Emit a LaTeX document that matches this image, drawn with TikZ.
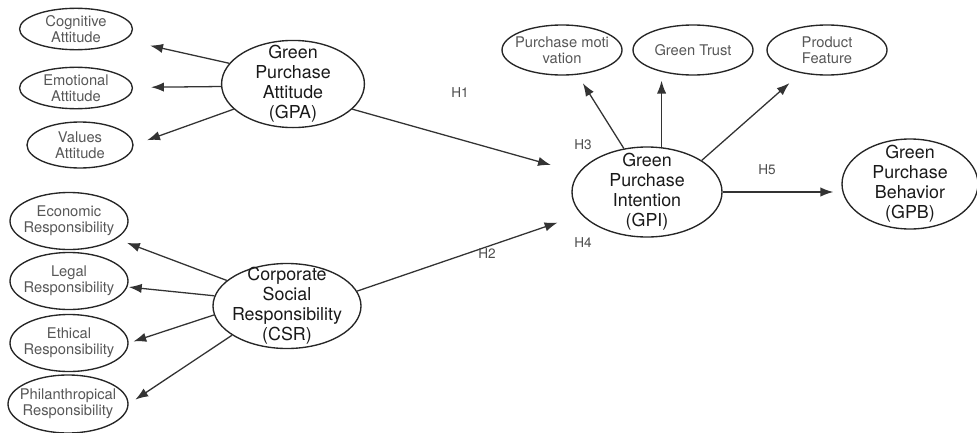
\documentclass[tikz,border=0pt]{standalone}
\usepackage{fontspec}
\setmainfont{TeX Gyre Heros}
\usetikzlibrary{shapes.geometric,arrows.meta}

\begin{document}
\begin{tikzpicture}[x=0.7pt,y=-0.7pt,
  sub/.style={ellipse,draw=black!85,line width=0.95pt,inner xsep=-10pt,inner ysep=-14pt,align=center,font=\fontsize{10.3}{11.4}\selectfont,text=black!66},
  main/.style={ellipse,draw=black!85,line width=0.95pt,inner xsep=-10pt,inner ysep=-14pt,align=center,font=\fontsize{12.5}{14}\selectfont,text=black!90},
  link/.style={line width=0.9pt,draw=black!80,-{Latex[length=9pt,width=6.5pt]}},
  hyp/.style={font=\fontsize{9.5}{11}\selectfont,text=black!70}]
\useasboundingbox (0,0) rectangle (977,432);

\node[sub,minimum width=79pt,minimum height=29pt] (cog) at (76,29) {Cognitive\\Attitude};
\node[sub,minimum width=79pt,minimum height=29pt] (emo) at (76,88) {Emotional\\Attitude};
\node[sub,minimum width=74.2pt,minimum height=32.2pt] (val) at (80,145) {Values\\Attitude};
\node[main,minimum width=100pt,minimum height=61pt] (gpa) at (293,84) {Green\\Purchase\\Attitude\\(GPA)};

\node[sub,minimum width=82.6pt,minimum height=39.9pt] (eco) at (69,221) {Economic\\Responsibility};
\node[sub,minimum width=82.6pt,minimum height=39.9pt] (leg) at (69,281) {Legal\\Responsibility};
\node[sub,minimum width=82.6pt,minimum height=39.9pt] (eth) at (69,343) {Ethical\\Responsibility};
\node[sub,minimum width=84pt,minimum height=40.6pt] (phi) at (68,404) {Philanthropical\\Responsibility};
\node[main,minimum width=103.6pt,minimum height=59.5pt] (csr) at (287,306) {Corporate\\Social\\Responsibility\\(CSR)};

\node[sub,minimum width=84pt,minimum height=35pt] (mot) at (562,50) {Purchase moti\\vation};
\node[sub,minimum width=84pt,minimum height=35pt] (tru) at (693,50) {Green Trust};
\node[sub,minimum width=84pt,minimum height=35pt] (fea) at (827,50) {Product\\Feature};
\node[main,minimum width=105pt,minimum height=63pt] (gpi) at (647,192) {Green\\Purchase\\Intention\\(GPI)};
\node[main,minimum width=95.2pt,minimum height=63pt] (gpb) at (910,184) {Green\\Purchase\\Behavior\\(GPB)};

\draw[link,shorten >=18pt] (gpa.162) -- (cog);
\draw[link,shorten >=12.6pt] (gpa.182) -- (emo);
\draw[link,shorten >=10pt] (gpa.203) -- (val.east);

\draw[link,shorten >=8pt] (csr.157) -- (eco);
\draw[link,shorten >=1pt] (csr.172) -- (leg);
\draw[link,shorten >=3.5pt] (csr.187) -- (eth.east);
\draw[link,shorten >=5.6pt] (csr.208) -- (phi.east);

\draw[link,shorten >=7pt] (gpi.118) -- (mot);
\draw[link,shorten >=3.5pt] (gpi.72) -- (gpi.72 |- tru.south);
\draw[link,shorten >=10.5pt] (gpi.30) -- (fea);
\draw[link,shorten >=5.6pt] (gpi.east) -- (gpi.east -| gpb.west);

\draw[link,shorten >=20pt] (gpa.-23) -- (gpi);
\draw[link,shorten >=17.5pt] (csr.12) -- (gpi);

\node[hyp] (h1) at (460,93) {H1};
\node[hyp] (h2) at (487,254) {H2};
\node[hyp] (h3) at (583,145) {H3};
\node[hyp] (h4) at (583,243) {H4};
\node[hyp] (h5) at (767,170) {H5};
\end{tikzpicture}
\end{document}
